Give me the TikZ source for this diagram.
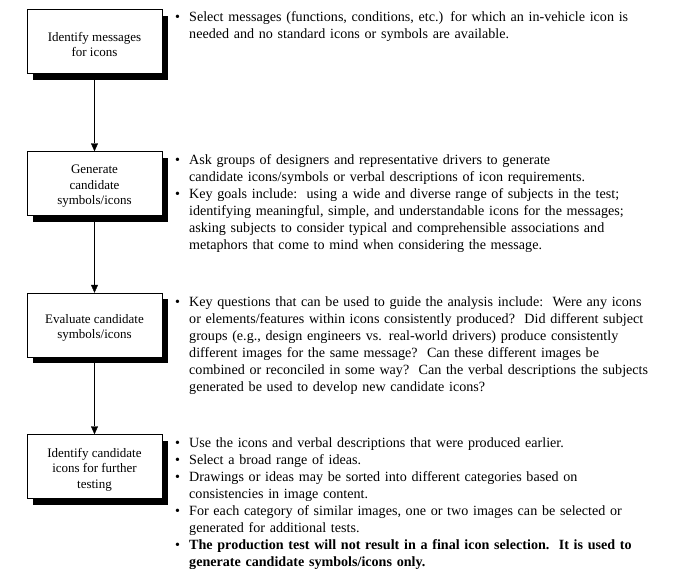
\documentclass[tikz,border=0pt]{standalone}
\usepackage{fontspec}
\setmainfont{Liberation Serif}
\usetikzlibrary{shadows,arrows.meta}

% one bullet item; the following lines hang under its text
\newcommand{\bitem}[1]{\par\noindent\hspace*{-14pt}\makebox[14pt][l]{\textbullet}#1}

\begin{document}
\begin{tikzpicture}[x=1pt,y=-1pt,
    stepbox/.style={draw,fill=white,minimum width=135pt,minimum height=64pt,inner sep=0pt,
      drop shadow={shadow xshift=6pt,shadow yshift=-6pt,fill=black,opacity=1}},
    steptext/.style={align=center,yshift=-3pt,inner sep=0pt,font=\fontsize{13}{15.5}\selectfont},
    notes/.style={anchor=north west,text width=505pt,inner sep=0pt,
      font=\fontsize{14.1}{17}\selectfont,execute at begin node={\leftskip=14pt\parindent=0pt}},
    arr/.style={-{Triangle[width=7pt,length=8pt]}}]
  \useasboundingbox (0,0) rectangle (685,568);
  % steps
  \node[stepbox,label={[steptext]center:Identify messages\\for icons}] (b1) at (94.5,41.5) {};
  \node[stepbox,label={[steptext]center:Generate\\candidate\\symbols/icons}] (b2) at (94.5,183.5) {};
  \node[stepbox,label={[steptext]center:Evaluate candidate\\symbols/icons}] (b3) at (94.5,325) {};
  \node[stepbox,label={[steptext]center:Identify candidate\\icons for further\\testing}] (b4) at (94.5,466.5) {};
  \draw[arr] (b1.south) -- (b2.north);
  \draw[arr] (b2.south) -- (b3.north);
  \draw[arr] (b3.south) -- (b4.north);
  % notes beside each step
  \node[notes] (n1) at (175,4) {\bitem{Select messages (functions, conditions, etc.) for which an in-vehicle icon is\\needed and no standard icons or symbols are available.}};
  \node[notes] (n2) at (175,147) {\bitem{Ask groups of designers and representative drivers to generate\\candidate icons/symbols or verbal descriptions of icon requirements.}
    \bitem{Key goals include:\ \ using a wide and diverse range of subjects in the test;\\identifying meaningful, simple, and understandable icons for the messages;\\asking subjects to consider typical and comprehensible associations and\\metaphors that come to mind when considering the message.}};
  \node[notes] (n3) at (175,289) {\bitem{Key questions that can be used to guide the analysis include:\ \ Were any icons\\or elements/features within icons consistently produced?\ \ Did different subject\\groups (e.g., design engineers vs. real-world drivers) produce consistently\\different images for the same message?\ \ Can these different images be\\combined or reconciled in some way?\ \ Can the verbal descriptions the subjects\\generated be used to develop new candidate icons?}};
  \node[notes] (n4) at (175,430) {\bitem{Use the icons and verbal descriptions that were produced earlier.}
    \bitem{Select a broad range of ideas.}
    \bitem{Drawings or ideas may be sorted into different categories based on\\consistencies in image content.}
    \bitem{For each category of similar images, one or two images can be selected or\\generated for additional tests.}
    \bitem{\textbf{The production test will not result in a final icon selection.\ \ It is used to\\generate candidate symbols/icons only.}}};
\end{tikzpicture}
\end{document}
